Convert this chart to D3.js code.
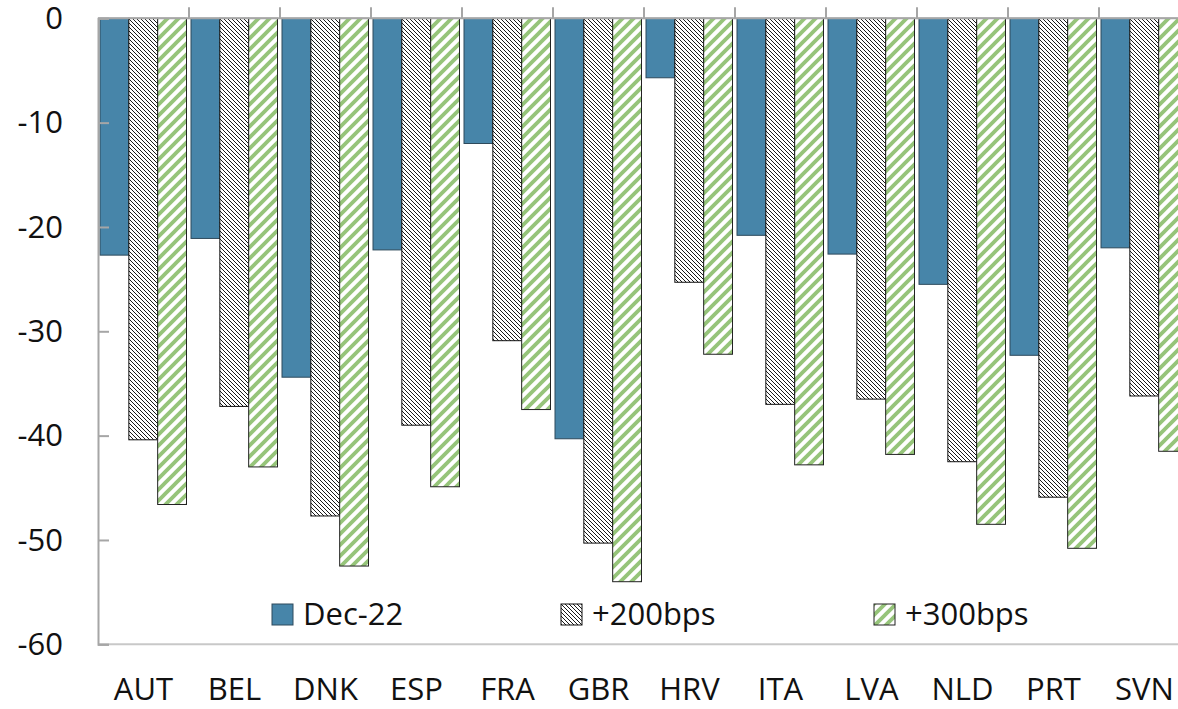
<!DOCTYPE html>
<html>
<head>
<meta charset="utf-8">
<script src="https://cdn.jsdelivr.net/npm/d3@7"></script>
<style>
  body { margin: 0; background: #fff; }
  svg { display: block; font-family: "Open Sans", "Noto Sans", sans-serif; }
</style>
</head>
<body>
<svg id="chart"></svg>
<script>
// Chart data
const countries = ["AUT", "BEL", "DNK", "ESP", "FRA", "GBR", "HRV", "ITA", "LVA", "NLD", "PRT", "SVN"];
const seriesNames = ["Dec-22", "+200bps", "+300bps"];
const dec22 = [-22.7, -21.1, -34.4, -22.2, -12.0, -40.3, -5.7, -20.8, -22.6, -25.5, -32.3, -22.0];
const bps200 = [-40.4, -37.2, -47.7, -39.0, -30.9, -50.3, -25.3, -37.0, -36.5, -42.5, -45.9, -36.2];
const bps300 = [-46.6, -43.0, -52.5, -44.9, -37.5, -54.0, -32.2, -42.8, -41.8, -48.5, -50.8, -41.5];
const yTicks = [0, -10, -20, -30, -40, -50, -60];

const width = 1178, height = 709;
const fills = ["#4785a9", "url(#hatch)", "url(#stripe)"];
const strokes = ["#2e4a5c", "#111", "#222"];

const svg = d3.select("#chart")
  .attr("width", width)
  .attr("height", height);

// Patterns for the two scenario series
const defs = svg.append("defs");
const hatch = defs.append("pattern")
  .attr("id", "hatch")
  .attr("patternUnits", "userSpaceOnUse")
  .attr("width", 4).attr("height", 4);
hatch.append("rect").attr("width", 4).attr("height", 4).attr("fill", "#fff");
hatch.append("path")
  .attr("d", "M-1,-1L5,5M3,-1L5,1M-1,3L1,5")
  .attr("stroke", "#000").attr("stroke-width", 0.9);

const stripe = defs.append("pattern")
  .attr("id", "stripe")
  .attr("patternUnits", "userSpaceOnUse")
  .attr("width", 11).attr("height", 11);
stripe.append("rect").attr("width", 11).attr("height", 11).attr("fill", "#fff");
stripe.append("path")
  .attr("d", "M-2,13L13,-2M-2,2L2,-2M9,13L13,9")
  .attr("stroke", "#96c47a").attr("stroke-width", 3.8);

// Scales
const x = d3.scaleBand()
  .domain(countries)
  .range([98, 1190]);

const xInner = d3.scaleBand()
  .domain(seriesNames)
  .range([2, 88.5]);

const y = d3.scaleLinear()
  .domain([0, -60])
  .range([18.3, 644.3]);

const rows = countries.map((c, i) => ({
  country: c,
  values: [dec22[i], bps200[i], bps300[i]]
}));

// Bars
const groups = svg.append("g")
  .selectAll("g")
  .data(rows)
  .join("g")
  .attr("transform", d => `translate(${x(d.country)},0)`);

groups.selectAll("rect")
  .data(d => d.values.map((v, j) => ({ name: seriesNames[j], value: v, j: j })))
  .join("rect")
  .attr("x", d => xInner(d.name))
  .attr("y", y(0))
  .attr("width", xInner.bandwidth())
  .attr("height", d => y(d.value) - y(0))
  .attr("fill", d => fills[d.j])
  .attr("stroke", d => strokes[d.j])
  .attr("stroke-width", 1);

// Top axis at zero, ticks pointing up between categories
const axisColor = "#a6a6a6";
const topAxis = svg.append("g");
topAxis.append("line")
  .attr("x1", 98).attr("x2", width)
  .attr("y1", y(0)).attr("y2", y(0))
  .attr("stroke", axisColor).attr("stroke-width", 2);
topAxis.selectAll("line.tick")
  .data(countries.slice(1))
  .join("line")
  .attr("class", "tick")
  .attr("x1", d => x(d)).attr("x2", d => x(d))
  .attr("y1", y(0) - 11).attr("y2", y(0))
  .attr("stroke", axisColor).attr("stroke-width", 2);

// Bottom frame line
svg.append("line")
  .attr("x1", 98).attr("x2", width)
  .attr("y1", y(-60)).attr("y2", y(-60))
  .attr("stroke", "#c8c8c8").attr("stroke-width", 2);

// Left axis with inward ticks
const yAxis = svg.append("g")
  .attr("transform", "translate(98,0)")
  .call(d3.axisRight(y).tickValues(yTicks).tickSize(11).tickFormat(""));
yAxis.select(".domain").attr("stroke", axisColor).attr("stroke-width", 2);
yAxis.selectAll(".tick line").attr("stroke", axisColor).attr("stroke-width", 2);

svg.append("g")
  .selectAll("text")
  .data(yTicks)
  .join("text")
  .attr("x", 63)
  .attr("y", d => y(d))
  .attr("dy", "0.35em")
  .attr("text-anchor", "end")
  .attr("font-size", 31)
  .attr("fill", "#111")
  .text(d => d);

// Category labels
svg.append("g")
  .selectAll("text")
  .data(countries)
  .join("text")
  .attr("x", d => x(d) + x.bandwidth() / 2)
  .attr("y", 700)
  .attr("text-anchor", "middle")
  .attr("font-size", 31)
  .attr("fill", "#111")
  .text(d => d);

// Legend
const legendX = [272, 561, 874];
const legend = svg.append("g")
  .selectAll("g")
  .data(seriesNames)
  .join("g")
  .attr("transform", (d, i) => `translate(${legendX[i]},604)`);
legend.append("rect")
  .attr("width", 21).attr("height", 21)
  .attr("fill", (d, i) => fills[i])
  .attr("stroke", (d, i) => strokes[i]);
legend.append("text")
  .attr("x", 31).attr("y", 21)
  .attr("font-size", 31)
  .attr("fill", "#111")
  .text(d => d);
</script>
</body>
</html>
